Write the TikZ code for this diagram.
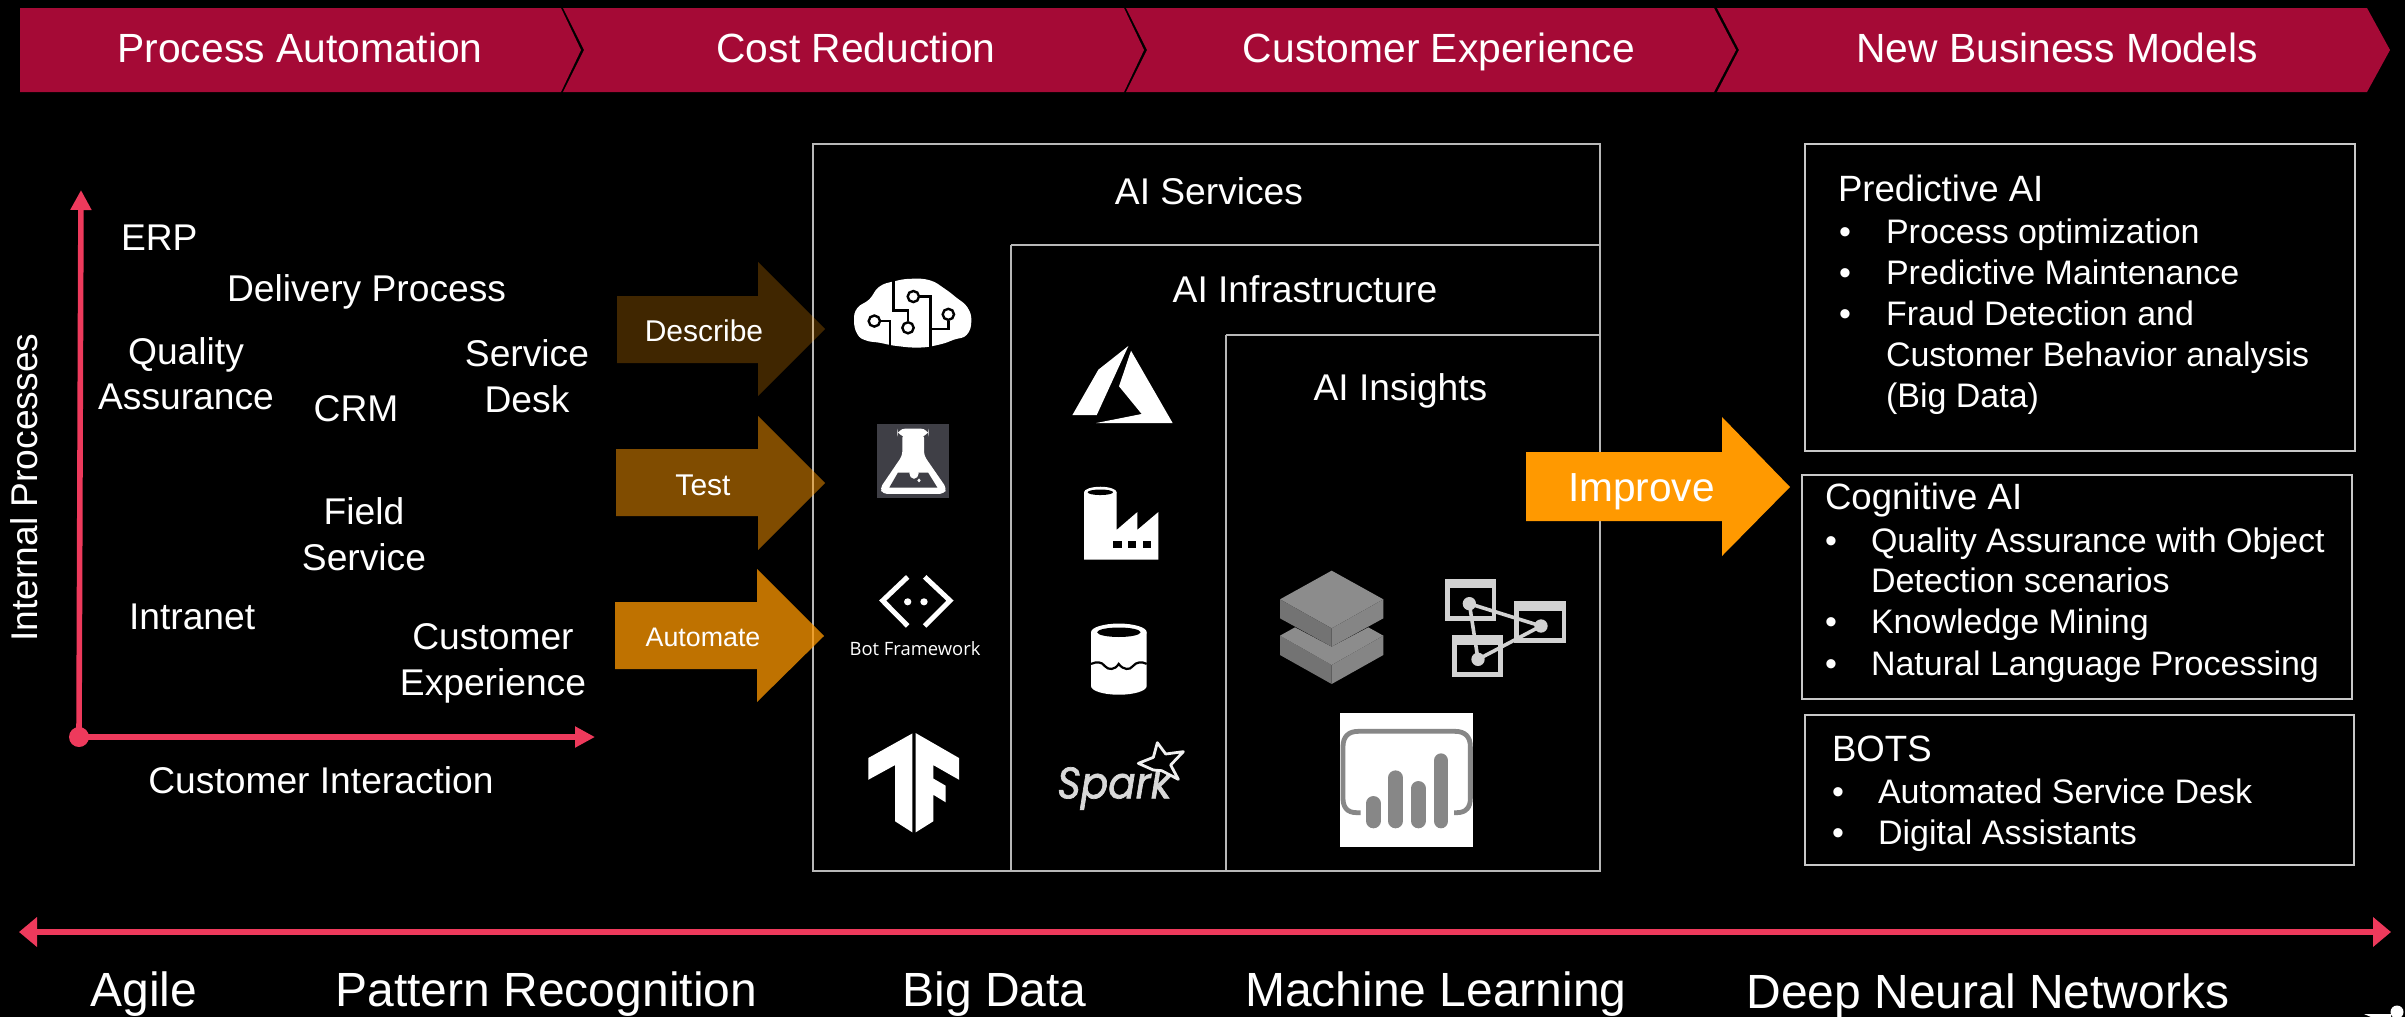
\documentclass[tikz,border=0pt]{standalone}
\usepackage{fontspec}
\setmainfont{Liberation Sans}
\newfontfamily\botfont{Open Sans}
\newfontfamily\sparkfont[FakeBold=1.6]{Poppins}
\usetikzlibrary{arrows.meta,shapes.geometric}
\definecolor{crim}{HTML}{A50A36}
\definecolor{rosy}{HTML}{EE3A5C}
\definecolor{amber}{HTML}{FF9900}
\definecolor{frameline}{HTML}{B8B8B8}
\definecolor{boxline}{HTML}{C8C8C8}
\definecolor{netgrey}{HTML}{D2D2D2}
\definecolor{flaskgrey}{HTML}{3F3F46}
\tikzset{
  txt/.style={text=white,inner sep=0pt,outer sep=0pt,font=\fontsize{18.6}{22.8}\selectfont,align=center},
  lft/.style={txt,anchor=base west,align=left},
  ctr/.style={txt,anchor=base},
  banner/.style={txt,anchor=base,font=\fontsize{20.4}{24}\selectfont},
  bottomtxt/.style={txt,anchor=base,font=\fontsize{24}{28}\selectfont},
  head/.style={lft,font=\fontsize{18.3}{20.4}\selectfont},
  item/.style={lft,font=\fontsize{17}{20.4}\selectfont},
  ribbon/.style={fill=crim,draw=none},
  frame/.style={draw=frameline,line width=0.65pt},
  infobox/.style={draw=boxline,line width=0.65pt},
  axis/.style={draw=rosy,line width=2.8pt,-{Triangle[length=10pt,width=10pt]}},
  timeline/.style={draw=rosy,line width=2.9pt,{Triangle[length=9pt,width=14.4pt]}-{Triangle[length=9pt,width=14.4pt]}},
}
\begin{document}
\begin{tikzpicture}[x=0.5pt,y=-0.5pt]
\fill[black] (0,0) rectangle (2405,1017);
\useasboundingbox (0,0) rectangle (2405,1017);
% banner
\fill[ribbon] (20,8) -- (561,8) -- (581,50) -- (561,92) -- (20,92) -- cycle;
\fill[ribbon] (563,8) -- (1124,8) -- (1144,50) -- (1124,92) -- (563,92) -- (584,50) -- cycle;
\fill[ribbon] (1126,8) -- (1714,8) -- (1736,50) -- (1714,92) -- (1126,92) -- (1147,50) -- cycle;
\fill[ribbon] (1717,8) -- (2367,8) -- (2390,50) -- (2367,92) -- (1717,92) -- (1739,50) -- cycle;
\node[banner] (b1) at (300,62) {Process Automation};
\node[banner] (b2) at (856,62) {Cost Reduction};
\node[banner] (b3) at (1439,62) {Customer Experience};
\node[banner] (b4) at (2057,62) {New Business Models};
% axes
\node[circle,fill=rosy,minimum size=10pt,inner sep=0pt] (origin) at (79,737) {};
\coordinate (ytip) at (81,190);
\coordinate (xtip) at (595,737);
\draw[axis] (origin.center) -- (ytip);
\draw[axis] (origin.center) -- (xtip);
\node[txt,rotate=90,anchor=base] (yl) at (37.5,487.6) {Internal Processes};
\node[ctr] (xl) at (321,793) {Customer Interaction};
\node[lft] (erp) at (121,250.6) {ERP};
\node[lft] (dp) at (227,301.6) {Delivery Process};
\node[ctr] (qa) at (186,409.6) {Quality\\Assurance};
\node[ctr] (sd) at (527,412) {Service\\Desk};
\node[ctr] (crm) at (356,421) {CRM};
\node[ctr] (fs) at (364,570) {Field\\Service};
\node[lft] (intr) at (129,629) {Intranet};
\node[ctr] (ce) at (493,695) {Customer\\Experience};
% frames
\draw[frame] (813,144) rectangle (1600,871);
\draw[frame] (1011,245) -- (1600,245);
\draw[frame] (1011,245) -- (1011,871);
\draw[frame] (1226,335) -- (1600,335);
\draw[frame] (1226,335) -- (1226,871);
\node[ctr] (s1) at (1209,204) {AI Services};
\node[ctr] (s2) at (1305,302) {AI Infrastructure};
\node[ctr] (s3) at (1400.5,400) {AI Insights};
% orange arrows
\fill[amber,opacity=.25] (617,296) -- (758,296) -- (758,262) -- (825,329) -- (758,396) -- (758,363) -- (617,363) -- cycle;
\fill[amber,opacity=.5] (616,449) -- (758,449) -- (758,416) -- (825,483) -- (758,550) -- (758,516) -- (616,516) -- cycle;
\fill[amber,opacity=.75] (615,602) -- (757,602) -- (757,569) -- (824,636) -- (757,702) -- (757,669) -- (615,669) -- cycle;
\node[ctr,font=\fontsize{15}{18}\selectfont] (a1) at (704,341) {Describe};
\node[ctr,font=\fontsize{15}{18}\selectfont] (a2) at (703,495) {Test};
\node[ctr,font=\fontsize{13.4}{16}\selectfont] (a3) at (703,646) {Automate};
\fill[amber] (1526,452) -- (1722,452) -- (1722,417) -- (1790,487) -- (1722,556) -- (1722,521) -- (1526,521) -- cycle;
\node[lft,font=\fontsize{20.3}{24}\selectfont] (imp) at (1568,501) {Improve};
% info boxes
\draw[infobox] (1805,144) rectangle (2355,451);
\draw[infobox] (1802,475) rectangle (2352,699);
\draw[infobox] (1805,715) rectangle (2354,865);
\node[head] (p0) at (1838,201) {Predictive AI};
\node[item] (p1b) at (1839,243) {•};
\node[item] (p1) at (1886,243) {Process optimization};
\node[item] (p2b) at (1839,284) {•};
\node[item] (p2) at (1886,284) {Predictive Maintenance};
\node[item] (p3b) at (1839,325) {•};
\node[item] (p3) at (1886,325) {Fraud Detection and};
\node[item] (p4) at (1886,366) {Customer Behavior analysis};
\node[item] (p5) at (1886,407) {(Big Data)};
\node[head] (c0) at (1825,509) {Cognitive AI};
\node[item] (c1b) at (1825,552) {•};
\node[item] (c1) at (1871,552) {Quality Assurance with Object};
\node[item] (c2) at (1871,592) {Detection scenarios};
\node[item] (c3b) at (1825,633) {•};
\node[item] (c3) at (1871,633) {Knowledge Mining};
\node[item] (c4b) at (1825,675) {•};
\node[item] (c4) at (1871,675) {Natural Language Processing};
\node[head] (t0) at (1832,761) {BOTS};
\node[item] (t1b) at (1832,803) {•};
\node[item] (t1) at (1878,803) {Automated Service Desk};
\node[item] (t2b) at (1832,844) {•};
\node[item] (t2) at (1878,844) {Digital Assistants};
% timeline
\coordinate (tl) at (19,932);
\coordinate (tr) at (2391,932);
\draw[timeline] (tl) -- (tr);
\node[bottomtxt] (d1) at (144,1006) {Agile};
\node[bottomtxt] (d2) at (546.4,1006) {Pattern Recognition};
\node[bottomtxt] (d3) at (994.5,1006) {Big Data};
\node[bottomtxt] (d4) at (1436,1006) {Machine Learning};
\node[bottomtxt] (d5) at (1988,1008) {Deep Neural Networks};
% corner fragment
\fill[white] (2364,1014) -- (2391,1014) -- (2391,1017) -- (2371,1017) -- cycle;
\fill[white] (2397,1012) circle [radius=6.5];
% icons, first zoom coordinates
\begin{scope}[shift={(780,240)},x=0.16667pt,y=-0.19771pt]
 % brain
 \fill[white] plot[smooth cycle,tension=.75] coordinates {(222,203)(232,172)(268,150)(298,118)(345,104)(395,98)(450,102)(492,122)(528,145)(562,170)(574,205)(560,240)(522,252)(480,264)(420,272)(350,268)(300,260)(258,254)(232,238)};
 \draw[black,line width=1.2pt] (340,100) -- (340,178) -- (384,178) -- (384,205);
 \draw[black,line width=1.2pt] (415,143) -- (452,143) -- (452,272);
 \draw[black,line width=1.2pt] (505,205) -- (505,225) -- (452,225);
 \draw[black,line width=1.2pt] (300,205) -- (330,205) -- (330,268);
 \foreach \cx/\cy in {400/143,505/188,283/205,384/222}{\draw[black,fill=white,line width=1.2pt] (\cx,\cy) ellipse [x radius=17,y radius=14];}
 % flask
 \fill[flaskgrey] (291,465) rectangle (507,652);
 \fill[white,rounded corners=4pt] (352,477) rectangle (446,497);
 \fill[white,rounded corners=2pt] (367,490) -- (432,490) -- (432,545) -- (500,628) -- (492,642) -- (308,642) -- (300,628) -- (367,545) -- cycle;
 \fill[flaskgrey] (354,588) -- (444,588) -- (472,626) -- (328,626) -- cycle;
 \fill[white] (402,590) ellipse [x radius=14,y radius=14];
 \fill[white] (417,608) ellipse [x radius=5,y radius=5];
 % bot
 \draw[white,line width=2.5pt] (383,852) -- (308,912) -- (383,976);
 \draw[white,line width=2.5pt] (434,852) -- (510,912) -- (434,976);
 \fill[white] (383,915) ellipse [x radius=11,y radius=9];
 \fill[white] (432,915) ellipse [x radius=11,y radius=9];
 \node[txt,anchor=base,font=\botfont\fontsize{9.2}{11}\selectfont] (bot) at (405,1050) {Bot Framework};
 % tensorflow
 \fill[white] (397,1248) -- (265,1310) -- (265,1365) -- (345,1328) -- (345,1470) -- (397,1498) -- cycle;
 \fill[white] (407,1247) -- (537,1310) -- (537,1365) -- (460,1328) -- (460,1362) -- (497,1380) -- (497,1422) -- (460,1403) -- (460,1470) -- (407,1498) -- cycle;
 % azure
 \fill[white] (1045,268) -- (955,328) -- (877,443) -- (950,443) -- cycle;
 \fill[white] (1053,280) -- (1178,463) -- (948,463) -- (1085,440) -- (1017,370) -- cycle;
 % factory
 \fill[white] (912,638) -- (912,808) -- (1135,808) -- (1135,688) -- (1072,733) -- (1072,688) -- (1010,733) -- (1010,638) -- cycle;
 \fill[white] (961,638) ellipse [x radius=49,y radius=14];
 \fill[black] (961,638) ellipse [x radius=38,y radius=7];
 \fill[black] (1000,760) rectangle (1025,780);
 \fill[black] (1045,760) rectangle (1068,780);
 \fill[black] (1090,760) rectangle (1113,780);
 % lake
 \fill[white] (933,992) -- (933,1128) arc[start angle=180,end angle=0,x radius=83.5,y radius=22] -- (1100,992) -- cycle;
 \fill[white] (1016.5,992) ellipse [x radius=83.5,y radius=22];
 \fill[black] (1016.5,992) ellipse [x radius=65,y radius=12];
 \draw[black,line width=1.1pt] (933,1072) .. controls (950,1066) and (965,1066) .. (975,1078) .. controls (985,1088) and (1005,1088) .. (1016,1072) .. controls (1030,1088) and (1050,1088) .. (1058,1078) .. controls (1070,1066) and (1085,1066) .. (1100,1072);
\end{scope}
% spark, coordinates of its own crop
\begin{scope}[shift={(1050,730)},x=0.16667pt,y=-0.16667pt]
 \node[txt,anchor=base west,xscale=.92,text=black!15!white,font=\sparkfont\itshape\fontsize{22}{24}\selectfont] (spark) at (22,205) {Spark};
 \draw[white!94!black,fill=black,line width=1.4pt,line join=round] (322,38) -- (347,72) -- (400,65) -- (362,105) -- (385,148) -- (335,122) -- (310,120) -- (265,100) -- (310,82) -- cycle;
\end{scope}
% icons, second zoom coordinates
\begin{scope}[shift={(1240,540)},x=0.16667pt,y=-0.16667pt]
 % layered blocks
 \fill[black!55!white] (120,287) -- (275,375) -- (275,432) -- (120,345) -- cycle;
 \fill[black!48!white] (430,287) -- (275,375) -- (275,432) -- (430,345) -- cycle;
 \fill[black!45!white] (120,287) -- (165,262) -- (275,320) -- (385,262) -- (430,287) -- (275,375) -- cycle;
 \fill[black!45!white] (275,92) -- (430,178) -- (275,265) -- (120,178) -- cycle;
 \fill[black!55!white] (120,178) -- (275,265) -- (275,320) -- (120,235) -- cycle;
 \fill[black!48!white] (430,178) -- (275,265) -- (275,320) -- (430,235) -- cycle;
 % linked boxes
 \fill[netgrey] (615,116) rectangle (768,242);
 \fill[black] (629,145) rectangle (755,228);
 \fill[netgrey] (823,184) rectangle (978,308);
 \fill[black] (837,212) rectangle (965,295);
 \fill[netgrey] (636,285) rectangle (789,411);
 \fill[black] (650,315) rectangle (775,397);
 \draw[netgrey,line width=1.8pt] (688,191) -- (903,258) -- (714,358) -- cycle;
 \fill[netgrey] (688,191) circle [radius=20];
 \fill[netgrey] (903,258) circle [radius=20];
 \fill[netgrey] (714,358) circle [radius=20];
 % chart tile
 \fill[white] (300,519) rectangle (699,921);
 \draw[black!47!white,line width=2.4pt] (362,818) -- (350,818) .. controls (320,818) and (309,800) .. (309,775) -- (309,620) .. controls (309,590) and (325,574) .. (355,574) -- (645,574) .. controls (675,574) and (691,590) .. (691,620) -- (691,775) .. controls (691,800) and (680,818) .. (650,818) -- (642,818);
 \draw[black!47!white,line width=7.3pt,line cap=round] (400,790) -- (400,843);
 \draw[black!47!white,line width=7.3pt,line cap=round] (467,713) -- (467,843);
 \draw[black!47!white,line width=7.3pt,line cap=round] (535,745) -- (535,843);
 \draw[black!47!white,line width=7.3pt,line cap=round] (603,662) -- (603,843);
\end{scope}
\end{tikzpicture}
\end{document}
